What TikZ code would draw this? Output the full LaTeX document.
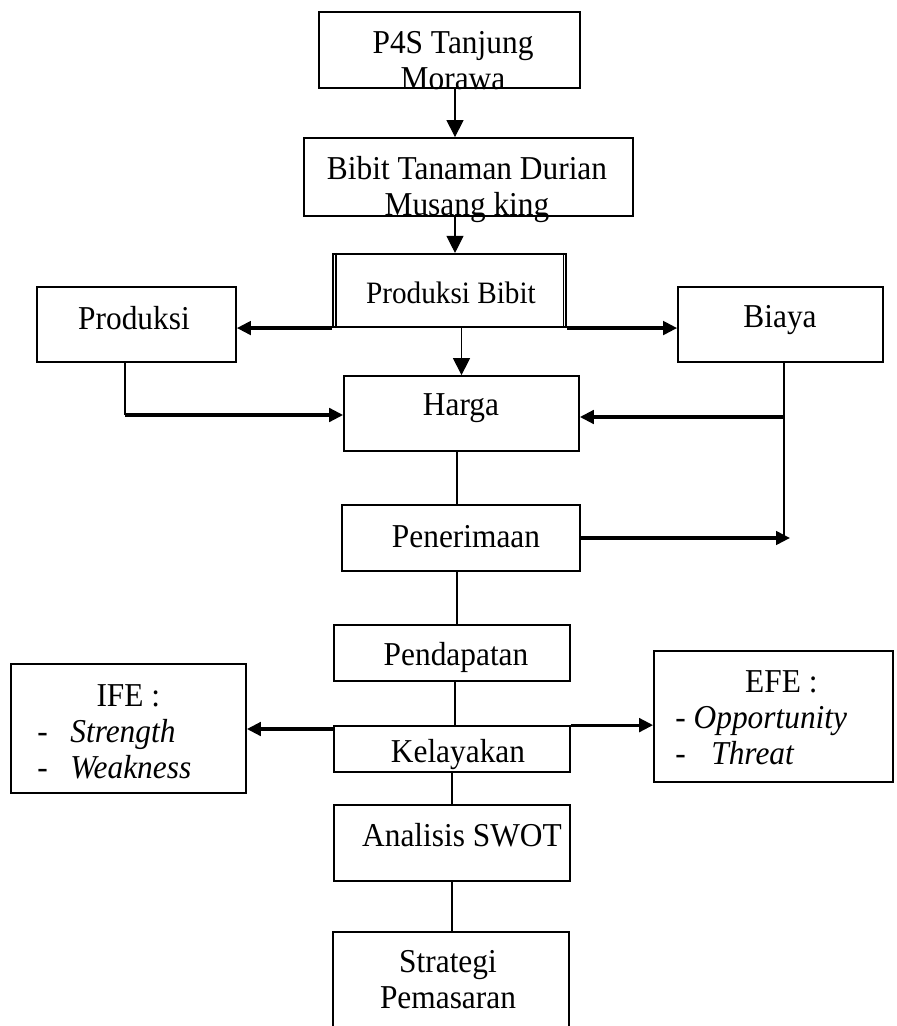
\documentclass[tikz,border=0pt]{standalone}
\usepackage{fontspec}
\setmainfont{Liberation Serif}[FakeStretch=0.94]
\usetikzlibrary{arrows.meta}
\begin{document}
\begin{tikzpicture}[x=0.02cm,y=-0.02cm,
  box/.style={draw,line width=1pt,inner sep=0pt},
  txt/.style={inner sep=0pt,align=center,font=\fontsize{19}{20.5}\selectfont},
  line/.style={line width=0.6pt},
  arr/.style={line width=0.6pt,-{Triangle[length=0.34cm,width=0.34cm]}},
  fatarr/.style={line width=1.8pt,-{Triangle[length=0.28cm,width=0.27cm]}}]
\clip (0,0) rectangle (896,1026);
    % boxes
    \node[box,minimum width=5.22cm,minimum height=1.52cm] (p4s) at (449.5,50) {};
    \node[box,minimum width=6.58cm,minimum height=1.56cm] (bibit) at (468.5,177) {};
    \node[box,line width=1.2pt,minimum width=4.66cm,minimum height=1.46cm] (prodbibit) at (449.5,290.5) {};
    \node[box,minimum width=3.98cm,minimum height=1.5cm] (produksi) at (136.5,324.5) {};
    \node[box,minimum width=4.1cm,minimum height=1.5cm] (biaya) at (780.5,324.5) {};
    \node[box,minimum width=4.7cm,minimum height=1.5cm] (harga) at (461.5,413.5) {};
    \node[box,minimum width=4.76cm,minimum height=1.32cm] (penerimaan) at (461,538) {};
    \node[box,minimum width=4.72cm,minimum height=1.12cm] (pendapatan) at (452,653) {};
    \node[box,minimum width=4.72cm,minimum height=0.92cm] (kelayakan) at (452,749) {};
    \node[box,minimum width=4.7cm,minimum height=2.58cm] (ife) at (128.5,728.5) {};
    \node[box,minimum width=4.78cm,minimum height=2.62cm] (efe) at (773.5,716.5) {};
    \node[box,minimum width=4.72cm,minimum height=1.52cm] (swot) at (452,843) {};
    \node[box,minimum width=4.72cm,minimum height=2.16cm] (strategi) at (451,986) {};
    \draw[line] ([xshift=0.08cm]prodbibit.north west) -- ([xshift=0.08cm]prodbibit.south west);
    \draw[line] ([xshift=-0.08cm]prodbibit.north east) -- ([xshift=-0.08cm]prodbibit.south east);
    % texts
    \node[txt] (p4s-t) at (453,61) {P4S Tanjung\\Morawa};
    \node[txt] (bibit-t) at (467,190) {Bibit Tanaman Durian\\Musang king};
    \node[txt,font=\fontsize{17.7}{20}\selectfont] (prodbibit-t) at (451,293) {Produksi Bibit};
    \node[txt] (produksi-t) at (134,318) {Produksi};
    \node[txt] (biaya-t) at (780,320) {Biaya};
    \node[txt] (harga-t) at (461,408) {Harga};
    \node[txt] (penerimaan-t) at (466,537) {Penerimaan};
    \node[txt] (pendapatan-t) at (456,657) {Pendapatan};
    \node[txt] (kelayakan-t) at (458,755) {Kelayakan};
    \node[txt,align=left,anchor=west] (ife-t) at (37,732)
        {\makebox[3.64cm]{IFE :}\\\makebox[0.66cm][l]{-}\textit{Strength}\\\makebox[0.66cm][l]{-}\textit{Weakness}};
    \node[txt,align=left,anchor=west] (efe-t) at (675,718)
        {\makebox[4.24cm]{EFE :}\\- \textit{Opportunity}\\\makebox[0.72cm][l]{-}\textit{Threat}};
    \node[txt] (swot-t) at (462,835) {Analisis SWOT};
    \node[txt] (strategi-t) at (448,980) {Strategi\\Pemasaran};
    % connectors
    \coordinate (c1) at (455,0);
    \coordinate (c2) at (457,0);
    \coordinate (pk) at (125,415);
    \coordinate (bk) at (784,417);
    \coordinate (bend) at (784,538);
    \coordinate (kl) at ([yshift=0.4cm]kelayakan.west);
    \draw[arr] (p4s.south -| c1) -- (bibit.north -| c1);
    \draw[arr] (bibit.south -| c1) -- (prodbibit.north -| c1);
    \draw[fatarr] (prodbibit.south west) -- (prodbibit.south west -| produksi.east);
    \draw[fatarr] (prodbibit.south east) -- (prodbibit.south east -| biaya.west);
    \draw[arr] (prodbibit.south -| harga.north) -- (harga.north);
    \draw[line] (produksi.south -| pk) -- (pk);
    \draw[fatarr] (pk) -- (pk -| harga.west);
    \draw[line] (biaya.south -| bk) -- (bend);
    \draw[fatarr] (bk) -- (bk -| harga.east);
    \draw[fatarr] (penerimaan.east |- bend) -- ([xshift=0.12cm]bend);
    \draw[line] (harga.south -| c2) -- (penerimaan.north -| c2);
    \draw[line] (penerimaan.south -| c2) -- (pendapatan.north -| c2);
    \draw[line] (pendapatan.south -| c1) -- (kelayakan.north -| c1);
    \draw[fatarr] (kl) -- (kl -| ife.east);
    \draw[fatarr] (kelayakan.north east) -- (kelayakan.north east -| efe.west);
    \draw[line] (kelayakan.south) -- (swot.north);
    \draw[line] (swot.south) -- (swot.south |- strategi.north);
\end{tikzpicture}
\end{document}
